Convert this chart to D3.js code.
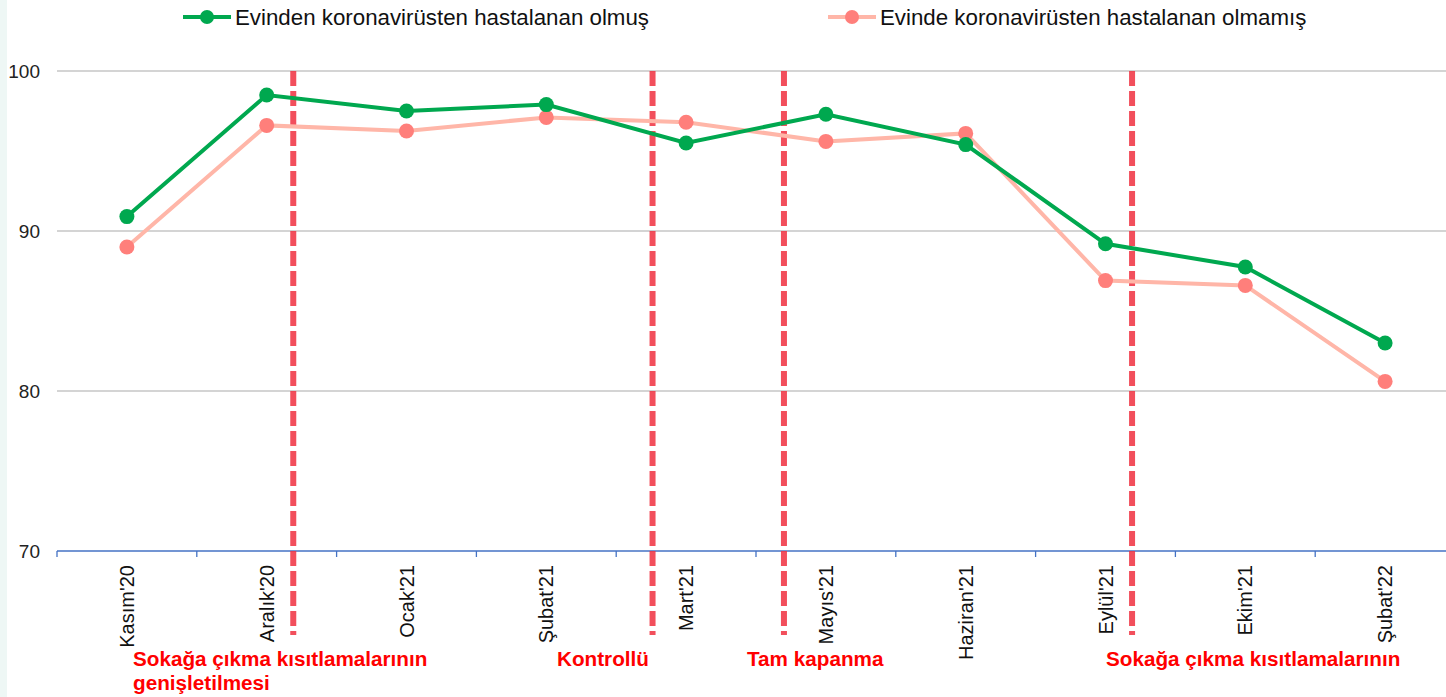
<!DOCTYPE html>
<html>
<head>
<meta charset="utf-8">
<script src="https://cdn.jsdelivr.net/npm/d3@7"></script>
<style>
  body { margin: 0; background: #fff; }
  svg { display: block; font-family: "Liberation Sans", Arial, sans-serif; }
</style>
</head>
<body>
<svg id="chart" width="1446" height="697"></svg>
<script>
var months = ["Kasım'20", "Aralık'20", "Ocak'21", "Şubat'21", "Mart'21",
  "Mayıs'21", "Haziran'21", "Eylül'21", "Ekim'21", "Şubat'22"];
var hadCovid = [90.9, 98.5, 97.5, 97.9, 95.5, 97.3, 95.4, 89.2, 87.75, 83.0];
var noCovid = [89.0, 96.6, 96.25, 97.1, 96.8, 95.6, 96.1, 86.9, 86.6, 80.6];
var yTicks = [70, 80, 90, 100];
var seriesNames = ["Evinden koronavirüsten hastalanan olmuş", "Evinde koronavirüsten hastalanan olmamış"];
// events: position in category units (index + fraction)
var events = [
  { at: 1.19, lines: ["Sokağa çıkma kısıtlamalarının", "genişletilmesi"], tx: 133 },
  { at: 3.76, lines: ["Kontrollü"], tx: 557 },
  { at: 4.7, lines: ["Tam kapanma"], tx: 747 },
  { at: 7.19, lines: ["Sokağa çıkma kısıtlamalarının"], tx: 1106 }
];

var svg = d3.select("#chart");
var plotLeft = 57, plotRight = 1455, plotTop = 71, plotBottom = 551;

svg.append("rect").attr("x", 0).attr("y", 0).attr("width", 7).attr("height", 697)
  .attr("fill", "#eef7f5");

var x = d3.scaleBand().domain(months).range([plotLeft, plotRight]);
var y = d3.scaleLinear().domain([70, 100]).range([plotBottom, plotTop]);
var xc = function (i) { return x(months[i]) + x.bandwidth() / 2; };
var xe = function (pos) { return x(months[0]) + x.bandwidth() * (pos + 0.5); };

// gridlines
svg.append("g").selectAll("line")
  .data(yTicks.filter(function (d) { return d > 70; }))
  .enter().append("line")
  .attr("x1", plotLeft).attr("x2", 1446)
  .attr("y1", function (d) { return y(d); }).attr("y2", function (d) { return y(d); })
  .attr("stroke", "#c6c6c6").attr("stroke-width", 1.3);

// y labels
svg.append("g").selectAll("text")
  .data(yTicks).enter().append("text")
  .attr("x", 40).attr("y", function (d) { return y(d) + 7; })
  .attr("text-anchor", "end").attr("font-size", 19).attr("fill", "#222")
  .text(function (d) { return d; });

// x axis
var xAxis = svg.append("g").attr("transform", "translate(0," + plotBottom + ")");
xAxis.append("line").attr("x1", plotLeft).attr("x2", 1446).attr("stroke", "#4472c4").attr("stroke-width", 1.3);
xAxis.selectAll("line.tick")
  .data(months.concat(["end"])).enter().append("line").attr("class", "tick")
  .attr("x1", function (d, i) { return plotLeft + i * x.bandwidth(); })
  .attr("x2", function (d, i) { return plotLeft + i * x.bandwidth(); })
  .attr("y1", 0).attr("y2", 6).attr("stroke", "#4472c4").attr("stroke-width", 1.3);
xAxis.selectAll("text")
  .data(months).enter().append("text")
  .attr("transform", function (d, i) { return "translate(" + (xc(i) + 7) + ",14) rotate(-90)"; })
  .attr("text-anchor", "end").attr("font-size", 20).attr("fill", "#111")
  .text(function (d) { return d; });

// event lines
svg.append("g").selectAll("line")
  .data(events).enter().append("line")
  .attr("x1", function (d) { return xe(d.at); }).attr("x2", function (d) { return xe(d.at); })
  .attr("y1", plotTop).attr("y2", 635)
  .attr("stroke", "#f03040").attr("stroke-opacity", 0.85)
  .attr("stroke-width", 6).attr("stroke-dasharray", "15,5");

// series
var series = [
  { values: noCovid, line: "#ffb6a8", dot: "#ff7f7b" },
  { values: hadCovid, line: "#00a84f", dot: "#00a84f" }
];
var lineGen = d3.line().x(function (d, i) { return xc(i); }).y(function (d) { return y(d); });
series.forEach(function (s) {
  svg.append("path").datum(s.values).attr("d", lineGen)
    .attr("fill", "none").attr("stroke", s.line).attr("stroke-width", 4);
  svg.append("g").selectAll("circle").data(s.values).enter().append("circle")
    .attr("cx", function (d, i) { return xc(i); }).attr("cy", function (d) { return y(d); })
    .attr("r", 7.5).attr("fill", s.dot);
});

// annotations
var ann = svg.append("g").attr("fill", "#ff0000").attr("font-size", 20.7).attr("font-weight", "bold")
  .attr("font-family", "'Liberation Sans Narrow', 'Liberation Sans', Arial, sans-serif");
events.forEach(function (e) {
  e.lines.forEach(function (t, j) {
    ann.append("text").attr("x", e.tx).attr("y", 666 + j * 24).text(t);
  });
});

// legend
var legend = [
  { name: seriesNames[0], x: 183, line: "#00a84f", dot: "#00a84f" },
  { name: seriesNames[1], x: 828, line: "#ffb6a8", dot: "#ff7f7b" }
];
legend.forEach(function (l) {
  var g = svg.append("g").attr("transform", "translate(" + l.x + ",17)");
  g.append("line").attr("x1", 0).attr("x2", 48).attr("stroke", l.line).attr("stroke-width", 4);
  g.append("circle").attr("cx", 24).attr("r", 7).attr("fill", l.dot);
  g.append("text").attr("x", 52).attr("y", 8).attr("font-size", 22.3).attr("fill", "#111").text(l.name);
});
</script>
</body>
</html>
